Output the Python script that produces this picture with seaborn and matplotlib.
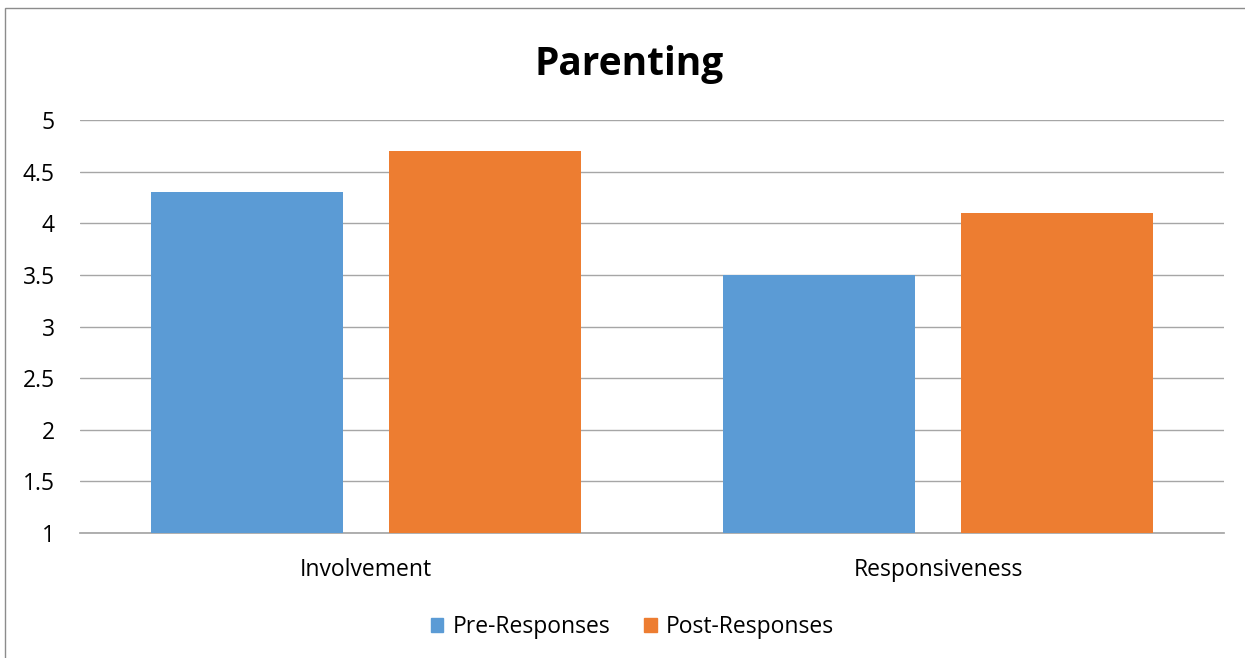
import numpy as np
import pandas as pd
import seaborn as sns
import matplotlib.pyplot as plt
from matplotlib.patches import Rectangle

categories = ['Involvement', 'Responsiveness']
series = ['Pre-Responses', 'Post-Responses']
pre_values = [4.3, 3.5]
post_values = [4.7, 4.1]
y_ticks = [1, 1.5, 2, 2.5, 3, 3.5, 4, 4.5, 5]

df = pd.DataFrame({
    'category': categories * 2,
    'series': [series[0]] * 2 + [series[1]] * 2,
    'value': pre_values + post_values,
})

sns.set_theme(style='white')
plt.rcParams['font.family'] = ['Open Sans', 'DejaVu Sans']
plt.rcParams['text.color'] = '#000000'

fig = plt.figure(figsize=(12.45, 6.58), dpi=100)
ax = fig.add_axes([80 / 1245, 1 - 533 / 658, 1144 / 1245, 413 / 658])

palette = {'Pre-Responses': '#5B9BD5', 'Post-Responses': '#ED7D31'}
sns.barplot(data=df, x='category', y='value', hue='series', palette=palette,
            width=0.832, gap=0.192, ax=ax, legend=False, zorder=3,
            saturation=1, linewidth=0)

ax.set_ylim(1, 5)
ax.set_xlim(-0.5, 1.5)
ax.set_yticks(y_ticks)
ax.set_yticklabels([f'{t:g}' for t in y_ticks])
ax.tick_params(axis='x', labelsize=16.5, colors='#000000', length=0, pad=18)
ax.tick_params(axis='y', labelsize=16.5, colors='#000000', length=0, pad=18)
ax.grid(axis='y', color='#A6A6A6', linewidth=1, zorder=0)
ax.set_xlabel('')
ax.set_ylabel('')
for s in ['top', 'right', 'left']:
    ax.spines[s].set_visible(False)
ax.spines['bottom'].set_color('#A6A6A6')

fig.text(0.505, 1 - 64 / 658, 'Parenting', ha='center', va='center',
         fontsize=28, fontweight='bold', color='#000000')

handles = [Rectangle((0, 0), 1, 1, color=palette[s]) for s in series]
fig.legend(handles, series, loc='center', bbox_to_anchor=(0.508, 1 - 627 / 658),
           ncol=2, frameon=False, fontsize=16.5, handlelength=0.55, handleheight=0.55,
           columnspacing=1.5, handletextpad=0.4)

fig.patches.append(Rectangle((5 / 1245, -0.01), 1.05, 1 - 8 / 658 + 0.01,
                             transform=fig.transFigure, fill=False,
                             edgecolor='#8C8C8C', linewidth=1))

fig.savefig('out.png', dpi=100)
